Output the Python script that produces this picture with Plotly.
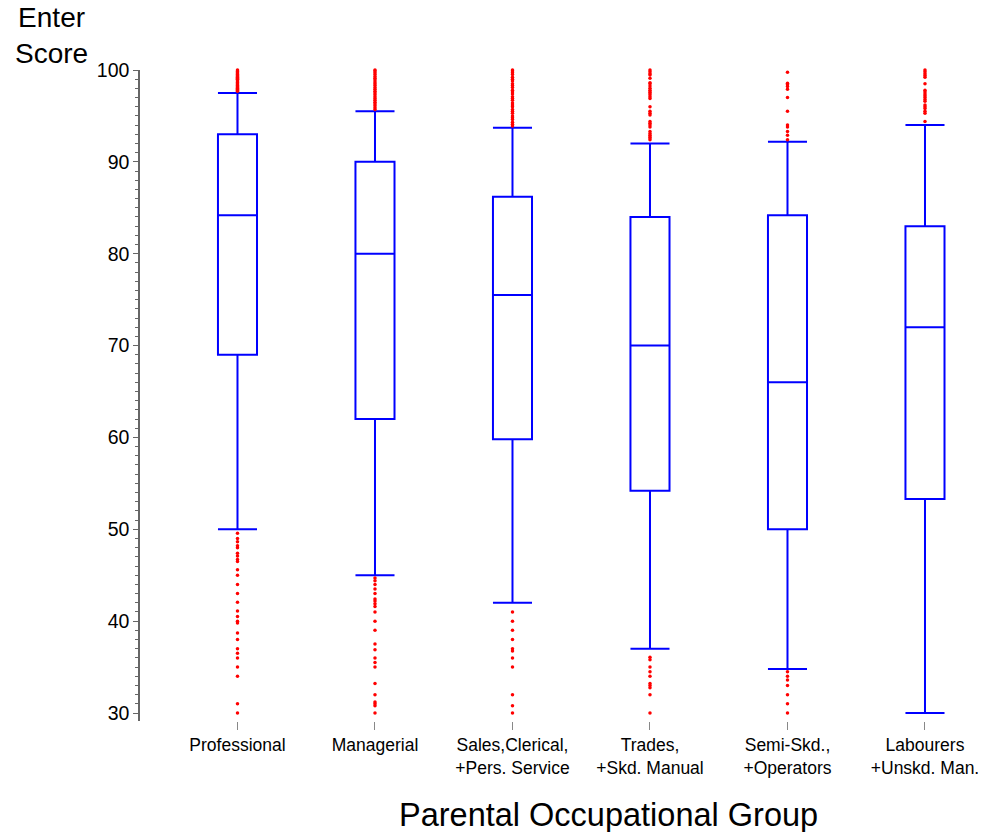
import plotly.graph_objects as go

categories = ["Professional", "Managerial", "Sales,Clerical,<br>+Pers. Service",
              "Trades,<br>+Skd. Manual", "Semi-Skd.,<br>+Operators", "Labourers<br>+Unskd. Man."]

q1 = [69.0, 62.0, 59.8, 54.2, 50.0, 53.3]
median = [84.2, 80.0, 75.5, 70.0, 66.0, 72.0]
q3 = [93.0, 90.0, 86.2, 84.0, 84.2, 83.0]
lower_fence = [50.0, 45.0, 42.0, 37.0, 34.8, 30.0]
upper_fence = [97.5, 95.5, 93.7, 92.0, 92.2, 94.0]

outliers_high = [
    [97.7, 97.8, 97.9, 98.0, 98.1, 98.2, 98.3, 98.4, 98.5, 98.6, 98.7, 98.8,
     98.9, 99.0, 99.1, 99.2, 99.3, 99.4, 99.5, 99.6, 99.7, 99.8, 99.9, 100.0],
    [95.7, 95.9, 96.1, 96.3, 96.5, 96.7, 96.9, 97.1, 97.3, 97.5, 97.7, 97.9,
     98.1, 98.3, 98.5, 98.7, 98.9, 99.1, 99.3, 99.5, 99.7, 99.9, 100.0],
    [93.9, 94.1, 94.3, 94.6, 94.8, 95.0, 95.3, 95.5, 95.7, 96.0, 96.2, 96.4,
     96.7, 96.9, 97.1, 97.4, 97.6, 97.8, 98.1, 98.3, 98.5, 98.8, 99.0, 99.2,
     99.5, 99.7, 99.9, 100.0],
    [92.4, 92.6, 92.7, 92.9, 93.1, 93.3, 93.8, 94.0, 94.2, 94.4, 95.1, 95.3,
     95.5, 96.0, 96.9, 97.1, 97.3, 97.5, 97.6, 97.8, 98.0, 98.25, 98.5, 98.6,
     99.1, 99.45, 99.6, 99.8, 100.0],
    [92.4, 92.9, 93.3, 93.8, 94.0, 95.5, 97.0, 97.9, 98.2, 98.4, 98.55, 99.75],
    [94.4, 95.3, 95.5, 95.8, 96.0, 96.2, 96.6, 96.8, 97.0, 97.2, 97.4, 97.6,
     97.8, 98.5, 99.2, 99.4, 99.6, 99.8, 100.0],
]

outliers_low = [
    [49.56, 49.0, 48.65, 48.2, 48.0, 47.4, 47.1, 46.7, 46.5, 45.6, 45.0, 44.0,
     43.0, 42.05, 41.1, 40.5, 40.0, 39.8, 38.7, 38.0, 37.0, 36.5, 36.0, 35.0,
     34.0, 31.0, 30.0],
    [44.7, 44.4, 44.0, 43.5, 43.0, 42.4, 42.2, 41.9, 41.6, 41.0, 40.0, 39.0,
     37.5, 36.9, 36.0, 35.5, 35.0, 33.2, 32.0, 31.2, 31.0, 30.8, 30.0],
    [41.0, 40.0, 39.0, 38.0, 37.0, 36.75, 36.0, 35.0, 32.0, 30.8, 30.0],
    [36.06, 35.8, 35.0, 34.5, 34.0, 33.2, 33.0, 32.75, 32.0, 30.0],
    [34.5, 34.0, 33.6, 33.0, 32.0, 31.0, 30.0],
    [],
]

y_ticks = [30, 40, 50, 60, 70, 80, 90, 100]

BLUE = "#0000ff"
FONT = "Liberation Sans, Arial, sans-serif"

fig = go.Figure()

for i, cat in enumerate(categories):
    fig.add_trace(go.Box(
        x=[i], q1=[q1[i]], median=[median[i]], q3=[q3[i]],
        lowerfence=[lower_fence[i]], upperfence=[upper_fence[i]],
        boxpoints=False, width=0.284, whiskerwidth=1,
        line=dict(color=BLUE, width=2), fillcolor="rgba(0,0,0,0)",
        showlegend=False, hoverinfo="skip",
    ))
    pts = outliers_high[i] + outliers_low[i]
    if pts:
        fig.add_trace(go.Scatter(
            x=[i] * len(pts), y=pts, mode="markers",
            marker=dict(color="red", size=3.5, line=dict(width=0)),
            showlegend=False, cliponaxis=False, hoverinfo="skip",
        ))

fig.update_layout(
    width=987, height=832,
    margin=dict(l=140, r=0, t=70, b=111),
    paper_bgcolor="white", plot_bgcolor="white",
    font=dict(family=FONT, color="black"),
    xaxis=dict(
        range=[-0.709, 5.451], tickmode="array",
        tickvals=list(range(len(categories))), ticktext=categories,
        showline=False, showgrid=False, zeroline=False,
        ticks="outside", ticklen=8, tickcolor="#888888", tickwidth=1,
        tickfont=dict(size=17.5, family=FONT, color="black"),
    ),
    yaxis=dict(
        range=[29.13, 100], tickmode="array", tickvals=y_ticks,
        showline=True, linecolor="#666666", linewidth=1.5,
        showgrid=False, zeroline=False,
        ticks="outside", ticklen=5, tickcolor="#666666", tickwidth=1,
        minor=dict(ticks="outside", ticklen=3, dtick=1, tickcolor="#666666", tickwidth=1),
        tickfont=dict(size=19.5, family=FONT, color="black"),
    ),
    annotations=[
        dict(text="Enter<br>Score", x=-0.104, y=(721 - 35) / 651, xref="paper", yref="paper",
             xanchor="center", yanchor="middle", showarrow=False, align="center",
             font=dict(size=28, family=FONT, color="black")),
        dict(text="Parental Occupational Group", x=(608 - 140) / 847, y=(721 - 815) / 651,
             xref="paper", yref="paper", xanchor="center", yanchor="middle",
             showarrow=False, font=dict(size=32.5, family=FONT, color="black")),
    ],
)

fig.write_html("out.html")
